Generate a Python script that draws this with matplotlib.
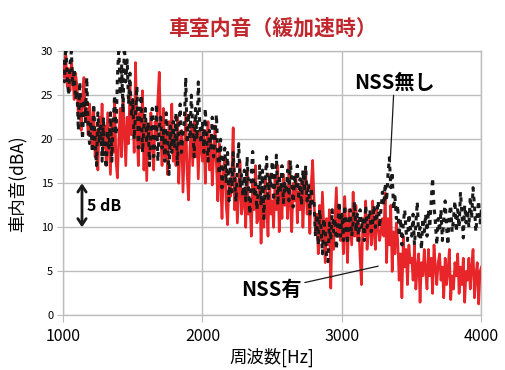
import numpy as np
import matplotlib.pyplot as plt

plt.rcParams['font.family'] = ['Noto Sans CJK JP', 'DejaVu Sans']

# frequency bins, 10 Hz step
freq = np.arange(1000, 4001, 10)

# NSS有 (red)
nss_on = [
    28.5, 27, 29.5, 26, 28, 25.5, 29, 27, 24.5, 27.5,
    26, 22.5, 25, 21, 24.5, 27, 22, 23.5, 20.5, 24,
    22, 19, 23.5, 18, 21, 16.5, 22.5, 20, 24, 19,
    21.5, 17, 23, 19.5, 16, 22, 18.5, 24.5, 17.5, 15.6,
    20, 23.5, 18, 25, 21, 17, 22.5, 19.5, 26, 20.5,
    24, 18.5, 28.7, 21, 17, 23, 19, 25.5, 16.5, 22,
    15.3, 21.5, 18, 23, 19, 16.5, 22, 20, 24.5, 27.6,
    21, 17, 23.5, 18, 20.5, 16, 22, 19, 24, 17.5,
    20, 17, 22.5, 15, 19.5, 21, 14, 18.5, 23, 16,
    13.1, 19, 21.5, 17, 22, 18, 20.5, 15.5, 21, 19,
    17.5, 21, 15, 19.5, 22, 16.5, 20, 14.8, 18, 21.5,
    17, 13, 19.5, 15, 11, 16.5, 18, 12.5, 10.3, 15,
    13.5, 16, 21.3, 12, 15.5, 10.5, 14, 17.5, 11.5, 13,
    14, 10, 16.5, 11.5, 13, 9, 15, 12, 17, 10.5,
    11, 14.5, 8.2, 13, 10, 15.5, 12, 9, 16, 11.5,
    13, 10, 15.5, 12, 17, 9.5, 14, 11, 16, 12.5,
    14.5, 11, 17.5, 12.5, 9.5, 15, 13, 16, 10.5, 14,
    12, 15.5, 10, 14, 16.5, 11.5, 13.5, 9.3, 15, 17.6,
    13, 9.5, 11.5, 7, 12.5, 8.5, 14, 10, 6, 11,
    8, 12, 3.1, 10.5, 7.5, 11, 14.5, 9, 12.5, 8.5,
    11, 7, 13.5, 9.5, 6, 12, 10, 8, 14, 9,
    12.5, 8.5, 10.5, 6.5, 3.5, 11, 9, 13, 7.5, 10,
    11.5, 8, 13, 9.5, 7.5, 12, 10, 8.5, 9.5, 11,
    9, 13.9, 6, 11, 8, 12.5, 5, 9.5, 7, 10.5,
    8.5, 4, 7, 2, 9, 5.5, 7.5, 3.5, 8, 6,
    6.5, 4, 8, 3, 5.5, 7, 1.5, 6, 4.5, 7.5,
    5, 3, 7.5, 4.5, 6.5, 2.5, 8, 5.5, 3.5, 6,
    7, 4, 5.5, 2, 6.5, 3.5, 5, 7.5, 1.8, 4.5,
    3, 6, 4.5, 7, 2.5, 5.5, 3.5, 6.5, 1.5, 5,
    4, 6.5, 3, 5.5, 7.5, 2, 4.5, 6, 1.3, 5,
    5.5,
]

# NSS無し (black)
nss_off = [
    29, 26.5, 30.5, 27, 25, 28.5, 30, 26, 28, 24.5,
    25.5, 21, 26.5, 23, 20, 24.5, 22, 27, 21.5, 19.5,
    22, 18.5, 24, 20, 17, 23, 19.5, 21.5, 17.5, 22.5,
    18, 16.7, 21, 19, 23, 17.5, 22, 25, 20.5, 27,
    30.5, 25, 28.5, 23, 31, 26.5, 29, 24, 27.5, 22.5,
    24.5, 20, 23, 26, 19, 22.5, 25, 18.5, 21.5, 23.5,
    19.5, 22, 17, 21, 23.5, 18, 20, 24, 17.5, 21.5,
    22.5, 19, 21, 17.5, 23, 20, 16, 21.5, 18.5, 22,
    19, 23, 17, 21.5, 24, 18.5, 20.5, 22, 27, 19.5,
    23, 20, 25, 21.5, 18, 23.5, 20, 26.5, 22, 19.5,
    22, 18.5, 23.5, 20, 17.5, 21, 19, 22.5, 18, 20.5,
    22.8, 18, 16, 20, 14.5, 17.5, 19, 15, 18.5, 13,
    17, 14, 18.5, 15.5, 12.9, 17, 19.5, 14.5, 16, 13.5,
    16.5, 13, 18, 14.5, 11.5, 16, 18.6, 13.5, 15, 12,
    14, 17, 12.5, 16.5, 11, 15.5, 18, 13, 16, 14.5,
    17.5, 13, 15.5, 18.2, 12.5, 16, 14, 17, 12.8, 15,
    14, 16.5, 13, 17.6, 15, 12.3, 16, 14.5, 17, 13.5,
    15.5, 12.5, 16.5, 14, 17, 13, 15, 11.5, 14.5, 12.5,
    12.9, 9, 11.5, 8, 12, 10, 7, 11, 9.5, 6.5,
    6.1, 10.5, 8.5, 12, 9.5, 11, 7.5, 10, 12.9, 9,
    11.5, 8.5, 12.5, 10, 8.1, 11, 12, 9, 10.5, 12.9,
    9.5, 11.5, 8.5, 12, 10, 11, 8.5, 12.5, 10, 11,
    12, 9.5, 10.5, 12.5, 10, 11.5, 13, 10, 12, 14,
    12.5, 15, 13, 16, 17.9, 14.5, 16.3, 12, 13.5, 11,
    12.5, 9, 11, 8, 10.5, 12, 9.5, 8.5, 11.5, 10,
    9, 11.5, 8, 10.5, 12.9, 9, 10, 7.5, 11, 9.5,
    11.5, 9, 12, 10, 13, 15.6, 12.5, 10.5, 8, 11,
    9.5, 12, 8.5, 11, 13, 10, 8, 11.5, 12.5, 9.5,
    11, 13, 9.5, 12, 10, 14, 11.5, 8.8, 12.5, 10.5,
    12, 10, 13.5, 11, 14.5, 12.5, 9.5, 11.5, 13, 10.5,
    12,
]

fig = plt.figure(figsize=(5.05, 3.70), dpi=100)
ax = fig.add_axes([0.1248, 0.1473, 0.8285, 0.7147])

ax.plot(freq, nss_on, color='#e8262a', lw=1.9, zorder=3)
ax.plot(freq, nss_off, color='#1a1a1a', lw=2.2, dashes=(1.5, 1.7), zorder=4)

ax.set_xlim(1000, 4000)
ax.set_ylim(0, 30)
ax.set_xticks([1000, 2000, 3000, 4000])
ax.set_yticks([0, 5, 10, 15, 20, 25, 30])
ax.grid(True, color='#bdbdbd', lw=1)
ax.set_axisbelow(True)
for s in ax.spines.values():
    s.set_color('#bdbdbd')
    s.set_linewidth(1)
ax.tick_params(axis='x', labelsize=11.5, color='#bdbdbd', length=5, pad=4)
ax.tick_params(axis='y', labelsize=8, color='#bdbdbd', length=4, pad=3)

ax.set_xlabel('周波数[Hz]', fontsize=12.5, labelpad=2)
ax.set_ylabel('車内音(dBA)', fontsize=12.5, labelpad=10)
ax.set_title('車室内音（緩加速時）', color='#c0282e', fontsize=15, fontweight='bold', pad=12)

# annotations
ax.annotate('NSS無し', xy=(3346, 17.4), xytext=(3375, 25.3), fontsize=14.5, fontweight='bold',
            ha='center', va='bottom',
            arrowprops=dict(arrowstyle='-', color='#1a1a1a', lw=0.9, shrinkA=0, shrinkB=0), zorder=6)
ax.annotate('NSS有', xy=(3260, 5.6), xytext=(2714, 2.9), fontsize=14.5, fontweight='bold',
            ha='right', va='center',
            arrowprops=dict(arrowstyle='-', color='#1a1a1a', lw=0.9, shrinkA=0, shrinkB=0), zorder=6)

# 5 dB scale arrow
ax.annotate('', xy=(1136, 10), xytext=(1136, 15),
            arrowprops=dict(arrowstyle='<->,head_length=0.45,head_width=0.3', color='#1a1a1a',
                            lw=2, shrinkA=0, shrinkB=0))
ax.text(1175, 12.4, '5 dB', fontsize=11.5, fontweight='bold', ha='left', va='center')

fig.savefig('out.png', dpi=100)
